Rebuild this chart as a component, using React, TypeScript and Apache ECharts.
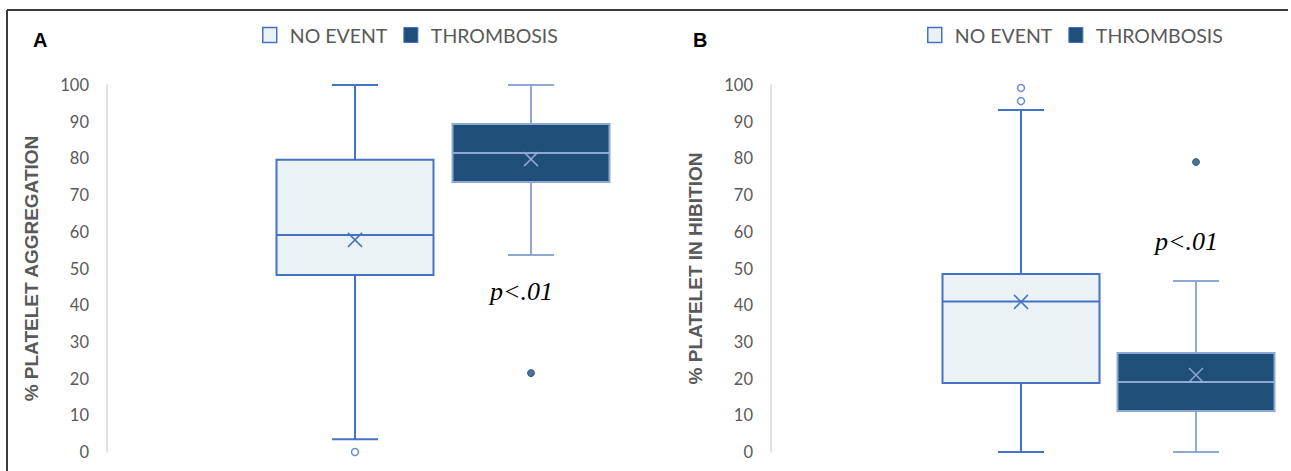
import React, { useEffect, useRef } from 'react';
import * as echarts from 'echarts';

const groups = ['NO EVENT', 'THROMBOSIS'];
// box stats: [lowWhisker, q1, median, q3, highWhisker, mean]
const aggNoEvent = [3.5, 48.2, 59.1, 79.6, 100, 57.8];
const aggThrombosis = [53.7, 73.6, 81.5, 89.4, 100, 79.8];
const aggOutNoEvent = [0];
const aggOutThrombosis = [21.5];
const inhNoEvent = [0, 18.8, 41.0, 48.5, 93.2, 40.9];
const inhThrombosis = [0, 11.2, 19.1, 27.0, 46.6, 21.0];
const inhOutNoEvent = [99.2, 95.6];
const inhOutThrombosis = [79.0];

const BLUE = '#4472C4';
const LIGHT_FILL = '#EAF2F5';
const NAVY = '#1F4E79';
const NAVY_STROKE = '#8EA9D1';
const GREY = '#595959';

const BOX_W = 157;
const CAP_W = 46;

function makeRender(stroke: string, fill: string, boxStroke: string) {
  return (params: any, api: any) => {
    const cat = api.value(0);
    const lo = api.value(1), q1 = api.value(2), med = api.value(3), q3 = api.value(4), hi = api.value(5), mean = api.value(6);
    const pLo = api.coord([cat, lo]);
    const pQ1 = api.coord([cat, q1]);
    const pMed = api.coord([cat, med]);
    const pQ3 = api.coord([cat, q3]);
    const pHi = api.coord([cat, hi]);
    const pMean = api.coord([cat, mean]);
    const x = pLo[0];
    const h = BOX_W / 2;
    const c = CAP_W / 2;
    const m = 7;
    const ls = { stroke, lineWidth: 2 };
    return {
      type: 'group',
      children: [
        { type: 'line', shape: { x1: x, y1: pQ3[1], x2: x, y2: pHi[1] }, style: ls },
        { type: 'line', shape: { x1: x, y1: pQ1[1], x2: x, y2: pLo[1] }, style: ls },
        { type: 'line', shape: { x1: x - c, y1: pHi[1], x2: x + c, y2: pHi[1] }, style: ls },
        { type: 'line', shape: { x1: x - c, y1: pLo[1], x2: x + c, y2: pLo[1] }, style: ls },
        { type: 'rect', shape: { x: x - h, y: pQ3[1], width: BOX_W, height: pQ1[1] - pQ3[1] }, style: { fill, stroke: boxStroke, lineWidth: 2 } },
        { type: 'line', shape: { x1: x - h, y1: pMed[1], x2: x + h, y2: pMed[1] }, style: ls },
        { type: 'line', shape: { x1: pMean[0] - m, y1: pMean[1] - m, x2: pMean[0] + m, y2: pMean[1] + m }, style: { stroke, lineWidth: 1.5 } },
        { type: 'line', shape: { x1: pMean[0] - m, y1: pMean[1] + m, x2: pMean[0] + m, y2: pMean[1] - m }, style: { stroke, lineWidth: 1.5 } },
      ],
    };
  };
}

function boxSeries(name: string, idx: number, stats: number[], axis: number, stroke: string, fill: string, boxStroke: string) {
  return {
    name,
    type: 'custom',
    xAxisIndex: axis,
    yAxisIndex: axis,
    renderItem: makeRender(stroke, fill, boxStroke),
    encode: { x: 0, y: [1, 2, 3, 4, 5, 6] },
    data: [[idx, ...stats]],
    itemStyle: { color: fill, borderColor: stroke },
  };
}

function outlierSeries(axis: number, noEvent: number[], thromb: number[]) {
  return {
    type: 'scatter',
    xAxisIndex: axis,
    yAxisIndex: axis,
    symbol: 'circle',
    symbolSize: 7,
    clip: false,
    data: [
      ...noEvent.map((v) => ({ value: [0, v], itemStyle: { color: '#ffffff', borderColor: BLUE, borderWidth: 1.5 } })),
      ...thromb.map((v) => ({ value: [1, v], itemStyle: { color: NAVY, borderColor: NAVY, borderWidth: 1 } })),
    ],
  };
}

function yAxisDef(grid: number, offset: number, name: string, gap: number) {
  return {
    gridIndex: grid,
    type: 'value',
    min: 0,
    max: 100,
    interval: 10,
    offset,
    axisLine: { show: true, lineStyle: { color: '#D9D9D9', width: 1.5 } },
    axisTick: { show: false },
    splitLine: { show: false },
    axisLabel: { color: GREY, fontSize: 16.5, fontFamily: 'Lato', margin: 18 },
    name,
    nameLocation: 'middle',
    nameGap: gap,
    nameTextStyle: { color: GREY, fontSize: 19, fontWeight: 'bold', fontFamily: '"Liberation Sans", Arial' },
  };
}

function legendDef(left: number) {
  return {
    left,
    top: 25,
    padding: 0,
    icon: 'rect',
    itemWidth: 14,
    itemHeight: 15,
    itemGap: 16,
    selectedMode: false,
    textStyle: { color: GREY, fontSize: 19.5, fontFamily: 'Lato', padding: [0, 0, 0, 8] },
    data: [
      { name: groups[0], itemStyle: { color: LIGHT_FILL, borderColor: BLUE, borderWidth: 1.5 } },
      { name: groups[1], itemStyle: { color: NAVY, borderColor: BLUE, borderWidth: 1 } },
    ],
  };
}

export default function App() {
  const ref = useRef<HTMLDivElement>(null);
  useEffect(() => {
    if (!ref.current) return;
    const chart = echarts.init(ref.current, undefined, { renderer: 'svg' });
    chart.setOption({
      animation: false,
      backgroundColor: '#ffffff',
      grid: [
        { left: 267, width: 352, top: 85, height: 367 },
        { left: 933.5, width: 350, top: 85, height: 367 },
      ],
      xAxis: [
        { gridIndex: 0, type: 'category', data: groups, show: false },
        { gridIndex: 1, type: 'category', data: groups, show: false },
      ],
      yAxis: [
        yAxisDef(0, 160, '% PLATELET AGGREGATION', 66),
        yAxisDef(1, 162.5, '% PLATELET IN HIBITION', 66),
      ],
      legend: [legendDef(262), legendDef(927)],
      series: [
        boxSeries(groups[0], 0, aggNoEvent, 0, BLUE, LIGHT_FILL, BLUE),
        boxSeries(groups[1], 1, aggThrombosis, 0, NAVY_STROKE, NAVY, NAVY_STROKE),
        outlierSeries(0, aggOutNoEvent, aggOutThrombosis),
        boxSeries(groups[0], 0, inhNoEvent, 1, BLUE, LIGHT_FILL, BLUE),
        boxSeries(groups[1], 1, inhThrombosis, 1, NAVY_STROKE, NAVY, NAVY_STROKE),
        outlierSeries(1, inhOutNoEvent, inhOutThrombosis),
      ],
      graphic: [
        { type: 'line', shape: { x1: 7, y1: 10, x2: 1288, y2: 10 }, style: { stroke: '#3A3A3A', lineWidth: 2 }, silent: true },
        { type: 'line', shape: { x1: 7, y1: 10, x2: 7, y2: 471 }, style: { stroke: '#3A3A3A', lineWidth: 2 }, silent: true },
        { type: 'text', x: 33, y: 30, style: { text: 'A', font: 'bold 20px "Liberation Sans", Arial', fill: '#000' } },
        { type: 'text', x: 693, y: 30, style: { text: 'B', font: 'bold 20px "Liberation Sans", Arial', fill: '#000' } },
        { type: 'text', x: 490, y: 278, style: { text: 'p<.01', font: 'italic 26px "Liberation Serif", serif', fill: '#000' } },
        { type: 'text', x: 1155, y: 228, style: { text: 'p<.01', font: 'italic 26px "Liberation Serif", serif', fill: '#000' } },
      ],
    });
    return () => chart.dispose();
  }, []);
  return <div ref={ref} style={{ position: 'fixed', left: 0, top: 0, width: 1291, height: 471 }} />;
}
